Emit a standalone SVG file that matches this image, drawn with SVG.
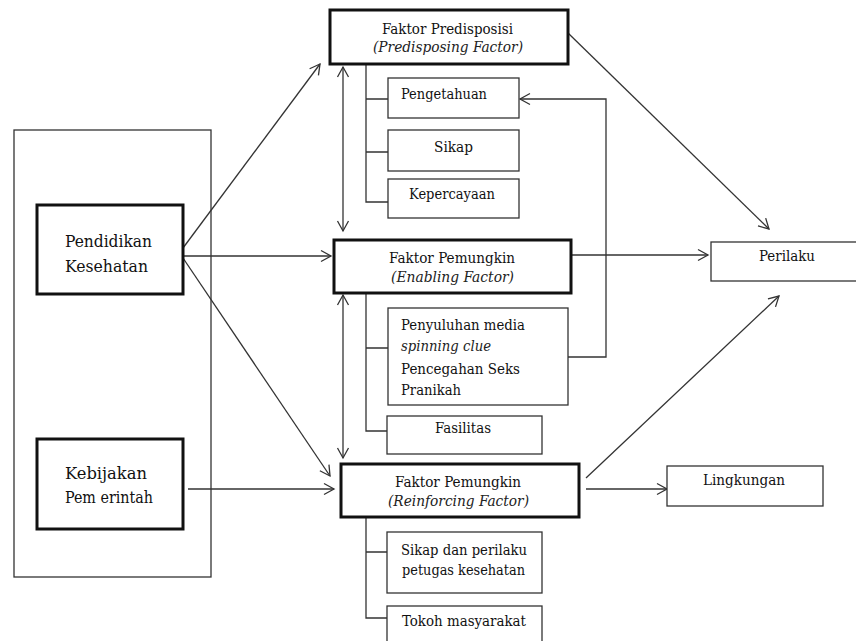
<svg xmlns="http://www.w3.org/2000/svg" width="856" height="641" viewBox="0 0 856 641" font-family="DejaVu Serif Condensed, DejaVu Serif, serif">
<style>
text{font-size:15px;fill:#111}
.big{font-size:17px}
.it{font-style:italic;fill:#222}
.thin{fill:#fff;stroke:#333;stroke-width:1.3}
.thick{fill:#fff;stroke:#111;stroke-width:3}
.c{fill:none;stroke:#333;stroke-width:1.3}
.a{marker-end:url(#ah)}
.d{marker-start:url(#ah);marker-end:url(#ah)}
</style>
<defs>
<marker id="ah" markerUnits="userSpaceOnUse" markerWidth="14" markerHeight="14" viewBox="0 0 14 14" refX="11" refY="7" orient="auto-start-reverse">
<path d="M1,1.5 L11,7 L1,12.5" fill="none" stroke="#333" stroke-width="1.3"/>
</marker>
</defs>
<rect width="856" height="641" fill="#fff"/>
<g id="outer"><rect class="thin" x="14" y="130" width="197" height="447"/></g>
<g id="connectors">
<path class="c a" d="M183,248 L320,64"/>
<path class="c a" d="M183,256 L331,256"/>
<path class="c a" d="M183,258 L330,476"/>
<path class="c a" d="M188,489 L334,489"/>
<path class="c a" d="M568,33 L769,229"/>
<path class="c a" d="M571,255 L708,255"/>
<path class="c a" d="M586,478 L779,296"/>
<path class="c a" d="M586,489 L667,489"/>
<path class="c d" d="M343,67 L343,231"/>
<path class="c d" d="M343,295 L343,458"/>
<path class="c a" d="M568,357 L606,357 L606,99 L520,99"/>
<path class="c" d="M366,64 L366,202 L388,202 M366,99 L388,99 M366,152 L388,152"/>
<path class="c" d="M366,293 L366,431 L387,431 M366,348 L388,348"/>
<path class="c" d="M366,517 L366,618 L387,618 M366,552 L387,552"/>
</g>
<g id="pendidikan"><rect class="thick" x="37" y="205" width="146" height="89"/>
<text class="big" x="65" y="247" textLength="87" lengthAdjust="spacingAndGlyphs">Pendidikan</text>
<text class="big" x="65" y="272" textLength="83" lengthAdjust="spacingAndGlyphs">Kesehatan</text></g>
<g id="kebijakan"><rect class="thick" x="37" y="439" width="146" height="90"/>
<text class="big" x="65" y="479" textLength="82" lengthAdjust="spacingAndGlyphs">Kebijakan</text>
<text class="big" x="65" y="503" textLength="88" lengthAdjust="spacingAndGlyphs">Pem erintah</text></g>
<g id="predisposisi"><rect class="thick" x="330" y="10" width="238" height="54"/>
<text x="382" y="34" textLength="131" lengthAdjust="spacingAndGlyphs">Faktor Predisposisi</text>
<text class="it" x="373" y="52" textLength="150" lengthAdjust="spacingAndGlyphs">(Predisposing Factor)</text></g>
<g id="pengetahuan"><rect class="thin" x="388" y="78" width="131" height="40"/>
<text x="401" y="99" textLength="86" lengthAdjust="spacingAndGlyphs">Pengetahuan</text></g>
<g id="sikap"><rect class="thin" x="388" y="130" width="131" height="41"/>
<text x="434" y="152" textLength="39" lengthAdjust="spacingAndGlyphs">Sikap</text></g>
<g id="kepercayaan"><rect class="thin" x="388" y="179" width="131" height="39"/>
<text x="409" y="199" textLength="86" lengthAdjust="spacingAndGlyphs">Kepercayaan</text></g>
<g id="enabling"><rect class="thick" x="334" y="240" width="237" height="53"/>
<text x="389" y="263" textLength="126" lengthAdjust="spacingAndGlyphs">Faktor Pemungkin</text>
<text class="it" x="391" y="282" textLength="123" lengthAdjust="spacingAndGlyphs">(Enabling Factor)</text></g>
<g id="penyuluhan"><rect class="thin" x="388" y="308" width="180" height="97"/>
<text x="401" y="330" textLength="124" lengthAdjust="spacingAndGlyphs">Penyuluhan media</text>
<text class="it" x="401" y="351" textLength="90" lengthAdjust="spacingAndGlyphs">spinning clue</text>
<text x="401" y="374" textLength="119" lengthAdjust="spacingAndGlyphs">Pencegahan Seks</text>
<text x="401" y="395" textLength="60" lengthAdjust="spacingAndGlyphs">Pranikah</text></g>
<g id="fasilitas"><rect class="thin" x="387" y="416" width="155" height="38"/>
<text x="435" y="433" textLength="56" lengthAdjust="spacingAndGlyphs">Fasilitas</text></g>
<g id="reinforcing"><rect class="thick" x="341" y="464" width="238" height="53"/>
<text x="395" y="487" textLength="126" lengthAdjust="spacingAndGlyphs">Faktor Pemungkin</text>
<text class="it" x="388" y="506" textLength="141" lengthAdjust="spacingAndGlyphs">(Reinforcing Factor)</text></g>
<g id="sikap-perilaku"><rect class="thin" x="387" y="532" width="155" height="61"/>
<text x="401" y="555" textLength="126" lengthAdjust="spacingAndGlyphs">Sikap dan perilaku</text>
<text x="402" y="575" textLength="123" lengthAdjust="spacingAndGlyphs">petugas  kesehatan</text></g>
<g id="tokoh"><rect class="thin" x="387" y="606" width="155" height="42"/>
<text x="402" y="626" textLength="124" lengthAdjust="spacingAndGlyphs">Tokoh masyarakat</text></g>
<g id="perilaku"><rect class="thin" x="711" y="242" width="150" height="39"/>
<text x="759" y="261" textLength="56" lengthAdjust="spacingAndGlyphs">Perilaku</text></g>
<g id="lingkungan"><rect class="thin" x="667" y="466" width="156" height="40"/>
<text x="703" y="485" textLength="82" lengthAdjust="spacingAndGlyphs">Lingkungan</text></g>
</svg>
